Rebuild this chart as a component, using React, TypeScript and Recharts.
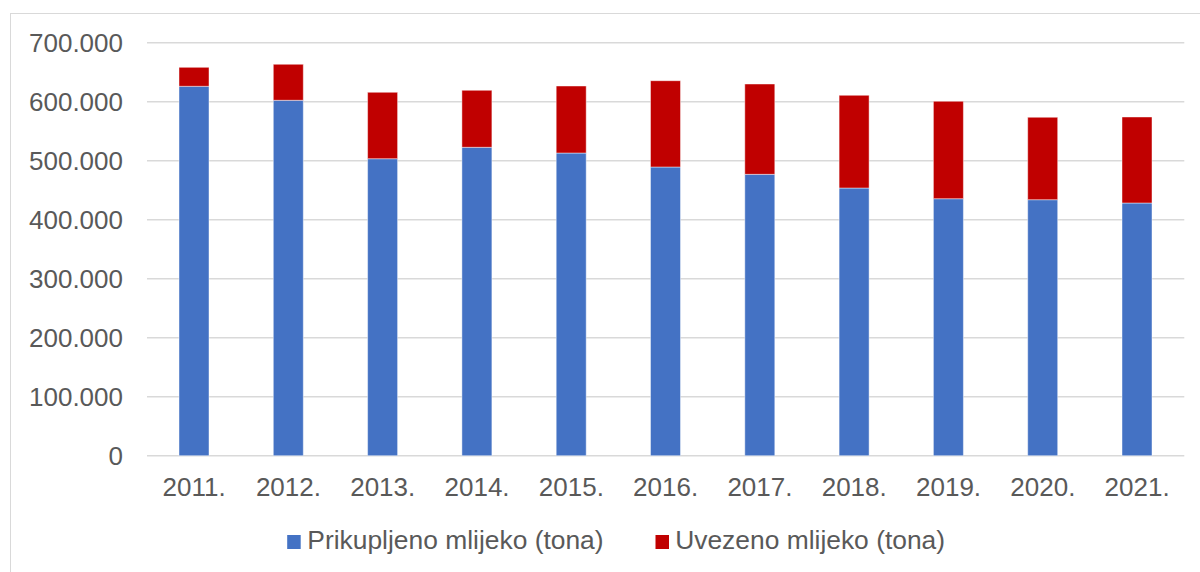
import { BarChart, Bar, XAxis, YAxis, CartesianGrid, Legend } from "recharts";

const years = ["2011.", "2012.", "2013.", "2014.", "2015.", "2016.", "2017.", "2018.", "2019.", "2020.", "2021."];
const prikupljeno = [626100, 602400, 503400, 522700, 513000, 489300, 476900, 453700, 435600, 433900, 428300];
const uvezeno = [32200, 61000, 112500, 96600, 113600, 146300, 153100, 157100, 165100, 139700, 145800];
const yTicks = [0, 100000, 200000, 300000, 400000, 500000, 600000, 700000];

const data = years.map((year, i) => ({ year, prikupljeno: prikupljeno[i], uvezeno: uvezeno[i] }));

const FONT = '"Liberation Sans", Arial, sans-serif';
const TEXT = "#595959";

const fmt = (v: number) => String(v).replace(/\B(?=(\d{3})+(?!\d))/g, ".");

const legendLayout = [
  { rectX: 287.2, textX: 307.3 },
  { rectX: 655.5, textX: 675.2 },
];

function LegendContent({ payload }: any) {
  return (
    <svg width={1200} height={50} style={{ display: "block" }}>
      {(payload || []).map((p: any, i: number) => {
        const l = legendLayout[i];
        if (!l) return null;
        return (
          <g key={i}>
            <rect x={l.rectX} y={25} width={13.5} height={14} fill={p.color} />
            <text x={l.textX} y={38.5} fontFamily={FONT} fontSize={26.4} fill={TEXT}>
              {p.value}
            </text>
          </g>
        );
      })}
    </svg>
  );
}

export default function App() {
  return (
    <div style={{ position: "relative", width: 1200, height: 572, overflow: "hidden", background: "#fff" }}>
      <style>{`body{margin:0}`}</style>
      <div
        style={{
          position: "absolute",
          left: 9.5,
          top: 12.5,
          width: 1300,
          height: 700,
          borderLeft: "1.7px solid #d9d9d9",
          borderTop: "1.7px solid #d9d9d9",
          pointerEvents: "none",
        }}
      />
      <BarChart
        width={1200}
        height={572}
        data={data}
        margin={{ top: 42.7, right: 15.7, left: 0, bottom: 56.3 }}
        barSize={30}
      >
        <CartesianGrid vertical={false} stroke="#d9d9d9" strokeWidth={1.4} />
        <XAxis
          dataKey="year"
          height={60}
          axisLine={false}
          tickLine={false}
          tickMargin={15.5}
          tick={{ fill: TEXT, fontSize: 26, fontFamily: FONT }}
        />
        <YAxis
          width={147}
          domain={[0, 700000]}
          ticks={yTicks}
          tickFormatter={fmt}
          axisLine={false}
          tickLine={false}
          tickMargin={18}
          tick={{ fill: TEXT, fontSize: 26, fontFamily: FONT }}
        />
        <Legend
          layout="horizontal"
          verticalAlign="middle"
          align="center"
          wrapperStyle={{ position: "absolute", left: 0, top: 510, width: 1200, height: 50 }}
          content={<LegendContent />}
        />
        <Bar
          dataKey="prikupljeno"
          name="Prikupljeno mlijeko (tona)"
          stackId="a"
          fill="#4472C4"
          stroke="#ffffff"
          strokeOpacity={0.45}
          strokeWidth={1}
          isAnimationActive={false}
        />
        <Bar
          dataKey="uvezeno"
          name="Uvezeno mlijeko (tona)"
          stackId="a"
          fill="#C00000"
          stroke="#ffffff"
          strokeOpacity={0.45}
          strokeWidth={1}
          isAnimationActive={false}
        />
      </BarChart>
    </div>
  );
}
